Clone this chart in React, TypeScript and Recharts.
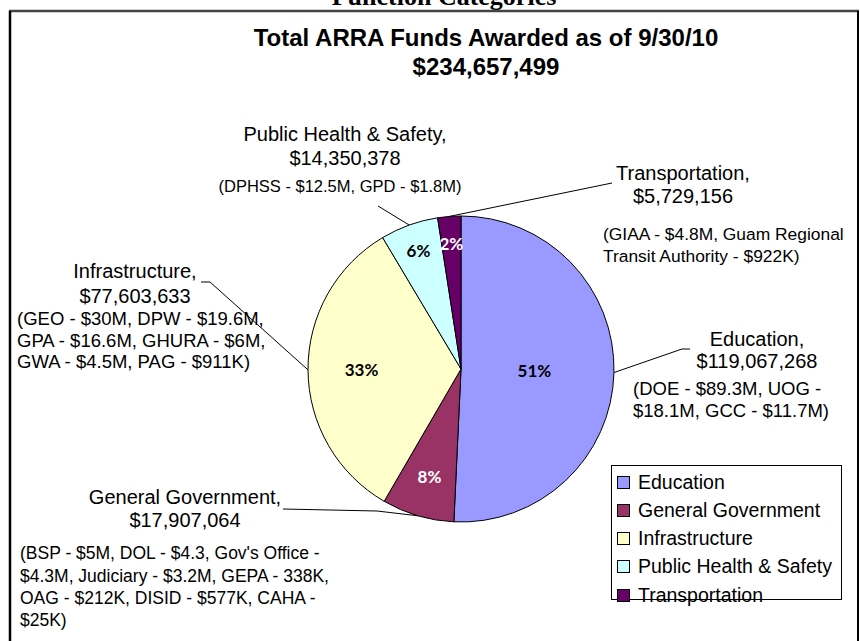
import React from 'react';
import { PieChart, Pie, Cell, Legend } from 'recharts';

const categories = ['Education', 'General Government', 'Infrastructure', 'Public Health & Safety', 'Transportation'];
const amounts = [119067268, 17907064, 77603633, 14350378, 5729156];
const amountLabels = ['$119,067,268', '$17,907,064', '$77,603,633', '$14,350,378', '$5,729,156'];
const detailLines = [
  ['(DOE - $89.3M, UOG -', '$18.1M, GCC - $11.7M)'],
  ['(BSP - $5M, DOL - $4.3, Gov\'s Office -', '$4.3M, Judiciary - $3.2M, GEPA - 338K,', 'OAG - $212K, DISID - $577K, CAHA -', '$25K)'],
  ['(GEO - $30M, DPW - $19.6M,', 'GPA - $16.6M, GHURA - $6M,', 'GWA - $4.5M, PAG - $911K)'],
  ['(DPHSS - $12.5M, GPD - $1.8M)'],
  ['(GIAA - $4.8M, Guam Regional', 'Transit Authority - $922K)'],
];
const colors = ['#9999FF', '#993366', '#FFFFCC', '#CCFFFF', '#660066'];
const pctColors = ['#000000', '#FFFFFF', '#000000', '#000000', '#FFFFFF'];
const titleLine1 = 'Total ARRA Funds Awarded as of 9/30/10';
const titleLine2 = '$234,657,499';
const headerText = 'Function Categories';

const data = categories.map((name, i) => ({ name, value: amounts[i] }));

// layout for callouts (positions only)
const callouts = [
  { hx: 757, hy: [346, 368], dAnchor: 'start', dx: 633, dy: [395, 417], dSize: 18.5, path: [[682, 349], [690, 349]], pr: 0.48 },
  { hx: 185, hy: [504, 527], dAnchor: 'start', dx: 20, dy: [559, 582, 604, 626], dSize: 17.5, path: [[377, 511], [283, 509]], pr: 0.73 },
  { hx: 135, hy: [278, 303], dAnchor: 'start', dx: 17, dy: [325, 347, 368], dSize: 18.5, path: [[210, 282], [201, 282]], pr: 0.65 },
  { hx: 345, hy: [141, 165], dAnchor: 'middle', dx: 340, dy: [192], dSize: 16.5, path: [[378, 206]], pr: 0.82 },
  { hx: 683, hy: [180, 203], dAnchor: 'start', dx: 603, dy: [240, 262], dSize: 17.4, path: [[612, 183]], pr: 0.82 },
];

const RAD = Math.PI / 180;
const FONT = '"Liberation Sans", Arial, sans-serif';

const renderLabel = (props: any) => {
  const { cx, cy, midAngle, outerRadius, index, percent } = props;
  const c = callouts[index];
  const ex = cx + Math.cos(-midAngle * RAD) * outerRadius;
  const ey = cy + Math.sin(-midAngle * RAD) * outerRadius;
  const px = cx + Math.cos(-midAngle * RAD) * outerRadius * c.pr;
  const py = cy + Math.sin(-midAngle * RAD) * outerRadius * c.pr;
  const pts = [[ex, ey], ...c.path].map((p) => p.join(',')).join(' ');
  return (
    <g key={`lbl-${index}`}>
      <polyline points={pts} fill="none" stroke="#000" strokeWidth={1} />
      <text x={px} y={py} textAnchor="middle" dominantBaseline="central" fontFamily="Lato, 'Open Sans', sans-serif" fontWeight="bold" fontSize={17} fill={pctColors[index]}>
        {`${Math.round(percent * 100)}%`}
      </text>
      <text x={c.hx} y={c.hy[0]} textAnchor="middle" fontFamily={FONT} fontSize={20} fill="#000">
        {`${categories[index]},`}
      </text>
      <text x={c.hx} y={c.hy[1]} textAnchor="middle" fontFamily={FONT} fontSize={20} fill="#000">
        {amountLabels[index]}
      </text>
      {detailLines[index].map((line, k) => (
        <text key={k} x={c.dx} y={c.dy[k]} textAnchor={c.dAnchor as any} fontFamily={FONT} fontSize={c.dSize} fill="#000">
          {line}
        </text>
      ))}
    </g>
  );
};

const LegendContent = (props: any) => {
  const payload = props.payload || [];
  return (
    <div style={{ width: 229, height: 133, border: '1px solid #000', background: '#fff', boxSizing: 'content-box', position: 'relative' }}>
      {payload.map((entry: any, i: number) => (
        <div key={i} style={{ position: 'absolute', left: 0, top: 4 + i * 28.3, height: 24, display: 'flex', alignItems: 'center', fontFamily: FONT, fontSize: 19.5, color: '#000', whiteSpace: 'nowrap' }}>
          <span style={{ display: 'inline-block', width: 11, height: 11, border: '1px solid #000', background: entry.color, marginLeft: 5, marginRight: 8 }} />
          <span>{entry.value}</span>
        </div>
      ))}
    </div>
  );
};

export default function App() {
  return (
    <div style={{ position: 'absolute', left: 0, top: 0, width: 860, height: 641, background: '#fff', overflow: 'hidden' }}>
      <svg width={860} height={641} style={{ position: 'absolute', left: 0, top: 0 }}>
        <text x={444} y={5} textAnchor="middle" fontFamily="'Liberation Serif', serif" fontWeight="bold" fontSize={26} fill="#000">{headerText}</text>
        <line x1={9} y1={11} x2={859} y2={11} stroke="#444" strokeWidth={2.5} />
        <line x1={10} y1={11} x2={10} y2={641} stroke="#000" strokeWidth={2.5} />
        <line x1={858} y1={11} x2={858} y2={641} stroke="#000" strokeWidth={2} />
        <text x={486} y={46} textAnchor="middle" fontFamily={FONT} fontWeight="bold" fontSize={24} fill="#000">{titleLine1}</text>
        <text x={486} y={75} textAnchor="middle" fontFamily={FONT} fontWeight="bold" fontSize={24} fill="#000">{titleLine2}</text>
      </svg>
      <div style={{ position: 'absolute', left: 0, top: 0 }}>
        <PieChart width={860} height={641} margin={{ top: 0, right: 0, bottom: 0, left: 0 }}>
          <Pie
            data={data}
            dataKey="value"
            nameKey="name"
            cx={461}
            cy={369}
            outerRadius={153}
            startAngle={90}
            endAngle={-270}
            stroke="#000"
            strokeWidth={1}
            label={renderLabel}
            labelLine={false}
            isAnimationActive={false}
          >
            {data.map((d, i) => (
              <Cell key={d.name} fill={colors[i]} />
            ))}
          </Pie>
          <Legend
            layout="vertical"
            content={<LegendContent />}
            wrapperStyle={{ position: 'absolute', left: 611, top: 465, width: 231, height: 135 }}
          />
        </PieChart>
      </div>
    </div>
  );
}
